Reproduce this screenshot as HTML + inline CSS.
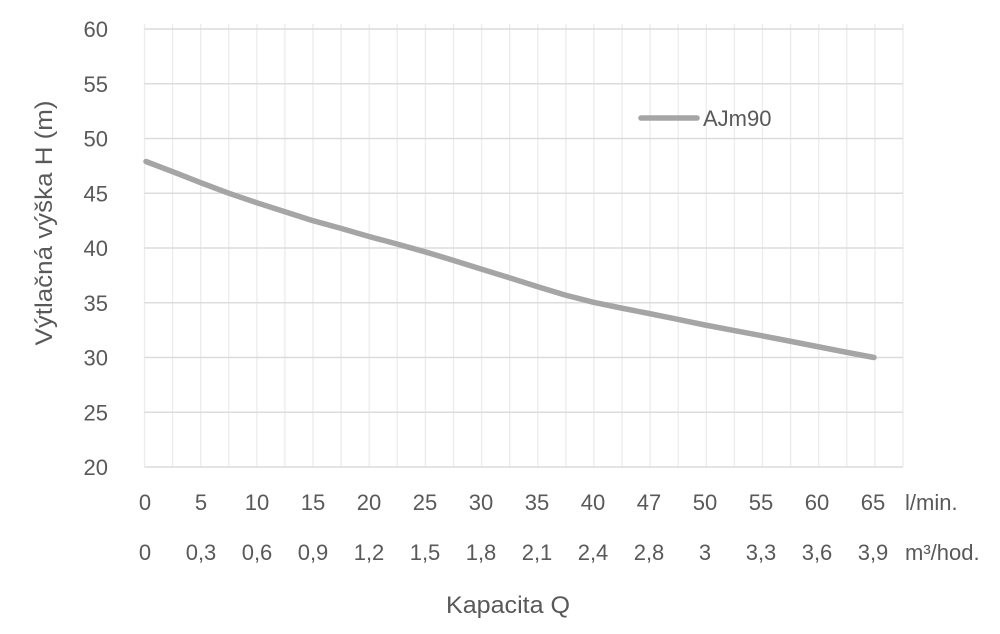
<!DOCTYPE html>
<html><head><meta charset="utf-8">
<style>
html,body{margin:0;padding:0;background:#fff;}
svg{display:block;}
text{font-family:"Liberation Sans",Arial,sans-serif;fill:#595959;}
</style></head>
<body>
<svg width="1000" height="634" viewBox="0 0 1000 634" xmlns="http://www.w3.org/2000/svg">
<rect width="1000" height="634" fill="#fff"/>
<g stroke="#ececec" stroke-width="1.3">
<line x1="144.5" y1="24" x2="144.5" y2="467"/>
<line x1="172.6" y1="24" x2="172.6" y2="467"/>
<line x1="200.7" y1="24" x2="200.7" y2="467"/>
<line x1="228.8" y1="24" x2="228.8" y2="467"/>
<line x1="256.9" y1="24" x2="256.9" y2="467"/>
<line x1="284.9" y1="24" x2="284.9" y2="467"/>
<line x1="313.0" y1="24" x2="313.0" y2="467"/>
<line x1="341.1" y1="24" x2="341.1" y2="467"/>
<line x1="369.2" y1="24" x2="369.2" y2="467"/>
<line x1="397.3" y1="24" x2="397.3" y2="467"/>
<line x1="425.4" y1="24" x2="425.4" y2="467"/>
<line x1="453.5" y1="24" x2="453.5" y2="467"/>
<line x1="481.6" y1="24" x2="481.6" y2="467"/>
<line x1="509.7" y1="24" x2="509.7" y2="467"/>
<line x1="537.8" y1="24" x2="537.8" y2="467"/>
<line x1="565.9" y1="24" x2="565.9" y2="467"/>
<line x1="593.9" y1="24" x2="593.9" y2="467"/>
<line x1="622.0" y1="24" x2="622.0" y2="467"/>
<line x1="650.1" y1="24" x2="650.1" y2="467"/>
<line x1="678.2" y1="24" x2="678.2" y2="467"/>
<line x1="706.3" y1="24" x2="706.3" y2="467"/>
<line x1="734.4" y1="24" x2="734.4" y2="467"/>
<line x1="762.5" y1="24" x2="762.5" y2="467"/>
<line x1="790.6" y1="24" x2="790.6" y2="467"/>
<line x1="818.7" y1="24" x2="818.7" y2="467"/>
<line x1="846.8" y1="24" x2="846.8" y2="467"/>
<line x1="874.9" y1="24" x2="874.9" y2="467"/>
<line x1="903.0" y1="24" x2="903.0" y2="467"/>
</g>
<g stroke="#dcdcdc" stroke-width="1.5">
<line x1="144.5" y1="29" x2="903" y2="29"/>
<line x1="144.5" y1="83.75" x2="903" y2="83.75"/>
<line x1="144.5" y1="138.5" x2="903" y2="138.5"/>
<line x1="144.5" y1="193.25" x2="903" y2="193.25"/>
<line x1="144.5" y1="248" x2="903" y2="248"/>
<line x1="144.5" y1="302.75" x2="903" y2="302.75"/>
<line x1="144.5" y1="357.5" x2="903" y2="357.5"/>
<line x1="144.5" y1="412.25" x2="903" y2="412.25"/>
<line x1="144.5" y1="467" x2="903" y2="467"/>
</g>
<g font-size="22" text-anchor="end">
<text x="108" y="37">60</text>
<text x="108" y="91.75">55</text>
<text x="108" y="146.5">50</text>
<text x="108" y="201.25">45</text>
<text x="108" y="256">40</text>
<text x="108" y="310.75">35</text>
<text x="108" y="365.5">30</text>
<text x="108" y="420.25">25</text>
<text x="108" y="475">20</text>
</g>
<text transform="translate(52,223) rotate(-90)" font-size="24" text-anchor="middle" textLength="245" lengthAdjust="spacingAndGlyphs">Výtlačná výška H (m)</text>
<polyline fill="none" stroke="#a5a5a5" stroke-width="5.5" stroke-linecap="round" stroke-linejoin="round"
points="146,161.5 173,171.8 201,182.8 229,193.3 257,202.8 285,211.8 313,220.7 341,228.4 369,236.5 397,244 425,251.8 453,260.2 481,269 509,277.6 537,286.5 565,295 593,302.2 621,308 649,313.5 677,319.2 705,325 733,330.3 761,335.6 789,341 817,346.5 845,352 874,357.5"/>
<line x1="641" y1="118" x2="697" y2="118" stroke="#a5a5a5" stroke-width="5.5" stroke-linecap="round"/>
<text x="703" y="126" font-size="22">AJm90</text>
<g font-size="22" text-anchor="middle">
<text x="145" y="510">0</text>
<text x="201" y="510">5</text>
<text x="257" y="510">10</text>
<text x="313" y="510">15</text>
<text x="369" y="510">20</text>
<text x="425" y="510">25</text>
<text x="481" y="510">30</text>
<text x="537" y="510">35</text>
<text x="593" y="510">40</text>
<text x="649" y="510">47</text>
<text x="705" y="510">50</text>
<text x="761" y="510">55</text>
<text x="817" y="510">60</text>
<text x="873" y="510">65</text>
<text x="145" y="560">0</text>
<text x="201" y="560">0,3</text>
<text x="257" y="560">0,6</text>
<text x="313" y="560">0,9</text>
<text x="369" y="560">1,2</text>
<text x="425" y="560">1,5</text>
<text x="481" y="560">1,8</text>
<text x="537" y="560">2,1</text>
<text x="593" y="560">2,4</text>
<text x="649" y="560">2,8</text>
<text x="705" y="560">3</text>
<text x="761" y="560">3,3</text>
<text x="817" y="560">3,6</text>
<text x="873" y="560">3,9</text>
</g>
<text x="905" y="510" font-size="22">l/min.</text>
<text x="905" y="560" font-size="22">m³/hod.</text>
<text x="508" y="613" font-size="24" text-anchor="middle" textLength="124" lengthAdjust="spacingAndGlyphs">Kapacita Q</text>
</svg>
</body></html>
